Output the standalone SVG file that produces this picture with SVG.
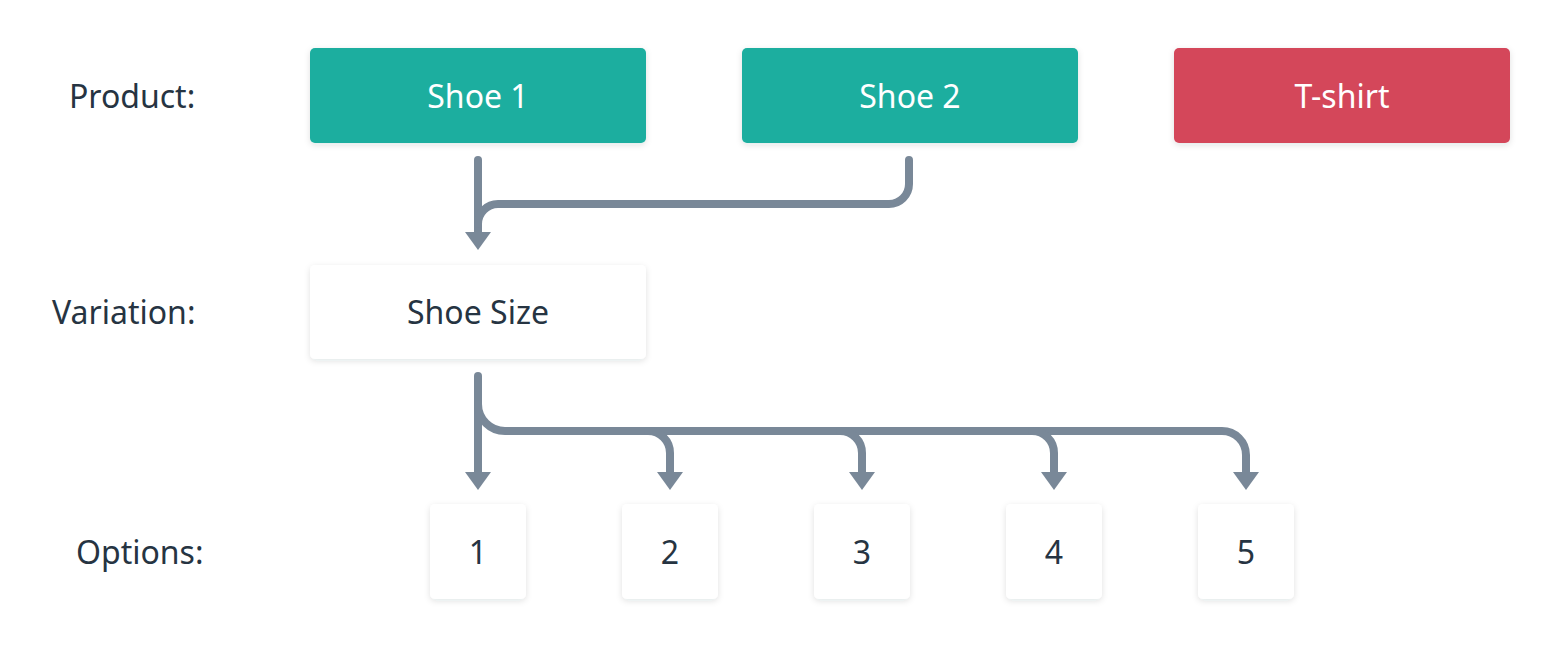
<svg xmlns="http://www.w3.org/2000/svg" width="1558" height="648" viewBox="0 0 1558 648">
  <defs>
    <filter id="shadow" x="-20%" y="-30%" width="140%" height="170%">
      <feDropShadow dx="0" dy="2" stdDeviation="3" flood-color="#1e2b38" flood-opacity="0.12"/>
    </filter>
    <style>
      .label { font-family: "Noto Sans", "Open Sans", sans-serif; font-size: 32px; fill: #263442; }
      .ntext { font-family: "Noto Sans", "Open Sans", sans-serif; font-size: 32px; text-anchor: middle; }
      .white { fill: #ffffff; }
      .dark { fill: #263442; }
      .box { filter: url(#shadow); }
      .teal { fill: #1bae9f; }
      .red { fill: #d4465a; }
      .plain { fill: #ffffff; }
      .conn { fill: none; stroke: #798898; stroke-width: 8; stroke-linecap: round; stroke-linejoin: round; }
      .head { fill: #798898; }
    </style>
  </defs>
  <rect width="1558" height="648" fill="#ffffff"/>

  <g id="labels">
    <text class="label" x="69" y="108">Product:</text>
    <text class="label" x="52" y="324">Variation:</text>
    <text class="label" x="76" y="564">Options:</text>
  </g>

  <g id="connectors">
    <path class="conn" d="M478 160 V236"/>
    <path class="conn" d="M909 160 V184 A20 20 0 0 1 889 204 H498 A20 20 0 0 0 478 224"/>
    <polygon class="head" points="465,232 491,232 478,250"/>
    <path class="conn" d="M478 376 V476"/>
    <path class="conn" d="M478 404 A27 27 0 0 0 505 431 H1222 A24 24 0 0 1 1246 455 V476"/>
    <path class="conn" d="M648 431 A22 22 0 0 1 670 453 V476"/>
    <path class="conn" d="M840 431 A22 22 0 0 1 862 453 V476"/>
    <path class="conn" d="M1032 431 A22 22 0 0 1 1054 453 V476"/>
    <polygon class="head" points="465,472 491,472 478,490"/>
    <polygon class="head" points="657,472 683,472 670,490"/>
    <polygon class="head" points="849,472 875,472 862,490"/>
    <polygon class="head" points="1041,472 1067,472 1054,490"/>
    <polygon class="head" points="1233,472 1259,472 1246,490"/>
  </g>

  <g id="shoe1">
    <rect class="box teal" x="310" y="48" width="336" height="95" rx="5"/>
    <text class="ntext white" x="478" y="108">Shoe 1</text>
  </g>
  <g id="shoe2">
    <rect class="box teal" x="742" y="48" width="336" height="95" rx="5"/>
    <text class="ntext white" x="910" y="108">Shoe 2</text>
  </g>
  <g id="tshirt">
    <rect class="box red" x="1174" y="48" width="336" height="95" rx="5"/>
    <text class="ntext white" x="1342" y="108">T-shirt</text>
  </g>

  <g id="shoesize">
    <rect class="box plain" x="310" y="265" width="336" height="94" rx="5"/>
    <text class="ntext dark" x="478" y="324">Shoe Size</text>
  </g>

  <g id="opt1">
    <rect class="box plain" x="430" y="504" width="96" height="95" rx="5"/>
    <text class="ntext dark" x="478" y="564">1</text>
  </g>
  <g id="opt2">
    <rect class="box plain" x="622" y="504" width="96" height="95" rx="5"/>
    <text class="ntext dark" x="670" y="564">2</text>
  </g>
  <g id="opt3">
    <rect class="box plain" x="814" y="504" width="96" height="95" rx="5"/>
    <text class="ntext dark" x="862" y="564">3</text>
  </g>
  <g id="opt4">
    <rect class="box plain" x="1006" y="504" width="96" height="95" rx="5"/>
    <text class="ntext dark" x="1054" y="564">4</text>
  </g>
  <g id="opt5">
    <rect class="box plain" x="1198" y="504" width="96" height="95" rx="5"/>
    <text class="ntext dark" x="1246" y="564">5</text>
  </g>
</svg>
